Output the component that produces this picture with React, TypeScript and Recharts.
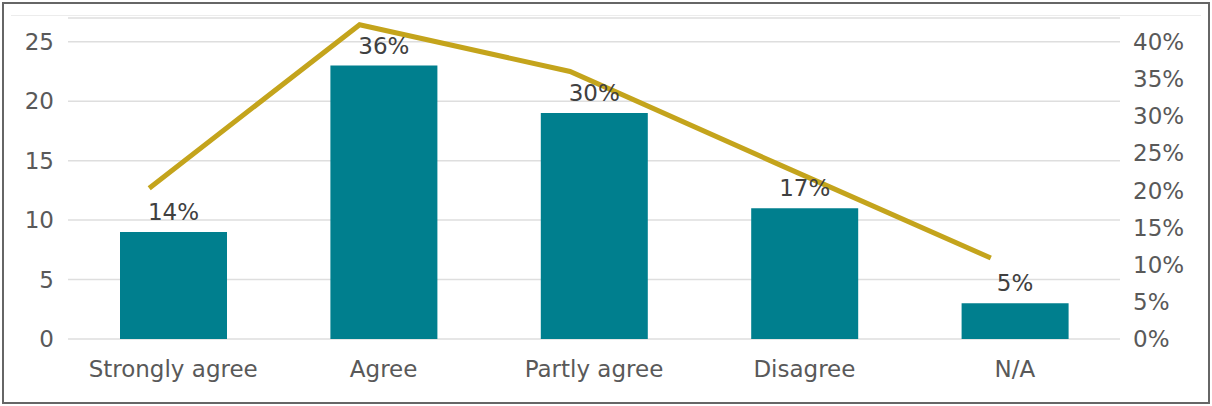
import React from "react";
import {
  ComposedChart,
  Bar,
  Line,
  XAxis,
  YAxis,
  CartesianGrid,
  LabelList,
} from "recharts";

const categories = ["Strongly agree", "Agree", "Partly agree", "Disagree", "N/A"];
const counts = [9, 23, 19, 11, 3];
const shareLabels = ["14%", "36%", "30%", "17%", "5%"];
const linePercent = [20.3, 42.3, 36.0, 23.4, 10.9];

const countTicks = [0, 5, 10, 15, 20, 25];
const percentTicks = [0, 5, 10, 15, 20, 25, 30, 35, 40];

const data = categories.map((name, i) => ({
  name,
  count: counts[i],
  share: shareLabels[i],
  pct: linePercent[i],
}));

const FONT = "'DejaVu Sans', Verdana, sans-serif";
const tickStyle = { fill: "#595959", fontSize: 23, fontFamily: FONT };

const App: React.FC = () => {
  return (
    <div
      style={{
        position: "absolute",
        left: 2,
        top: 2,
        width: 1208,
        height: 402,
        border: "2px solid #666",
        boxSizing: "border-box",
        background: "#fff",
        fontFamily: FONT,
      }}
    >
      <div
        style={{
          position: "absolute",
          left: 7,
          top: 11,
          width: 1190,
          height: 1,
          background: "#ececec",
        }}
      />
      <ComposedChart
        width={1204}
        height={398}
        data={data}
        margin={{ top: 14, right: 0, bottom: 0, left: 0 }}
      >
        <CartesianGrid
          vertical={false}
          stroke="#dedede"
          strokeWidth={1.5}
          yAxisId="count"
        />
        <XAxis
          dataKey="name"
          axisLine={false}
          tickLine={false}
          tickSize={0}
          tickMargin={22}
          height={63}
          tick={tickStyle}
          interval={0}
        />
        <XAxis dataKey="name" xAxisId="line" hide padding={{ left: -24, right: 24 }} />
        <YAxis
          yAxisId="count"
          width={64}
          domain={[0, 27]}
          ticks={countTicks}
          axisLine={false}
          tickLine={false}
          tickSize={0}
          tickMargin={14}
          tick={tickStyle}
          allowDataOverflow
        />
        <YAxis
          yAxisId="pct"
          orientation="right"
          width={88}
          domain={[0, 43.2]}
          ticks={percentTicks}
          tickFormatter={(v: number) => `${v}%`}
          axisLine={false}
          tickLine={false}
          tickSize={0}
          tickMargin={13}
          tick={tickStyle}
        />
        <Bar
          yAxisId="count"
          dataKey="count"
          fill="#007f8e"
          barSize={107}
          isAnimationActive={false}
        >
          <LabelList
            dataKey="share"
            position="top"
            offset={12}
            fill="#404040"
            fontSize={23}
            fontFamily={FONT}
          />
        </Bar>
        <Line
          yAxisId="pct"
          xAxisId="line"
          dataKey="pct"
          stroke="#c4a41c"
          strokeWidth={5}
          dot={false}
          activeDot={false}
          isAnimationActive={false}
        />
      </ComposedChart>
    </div>
  );
};

export default App;
